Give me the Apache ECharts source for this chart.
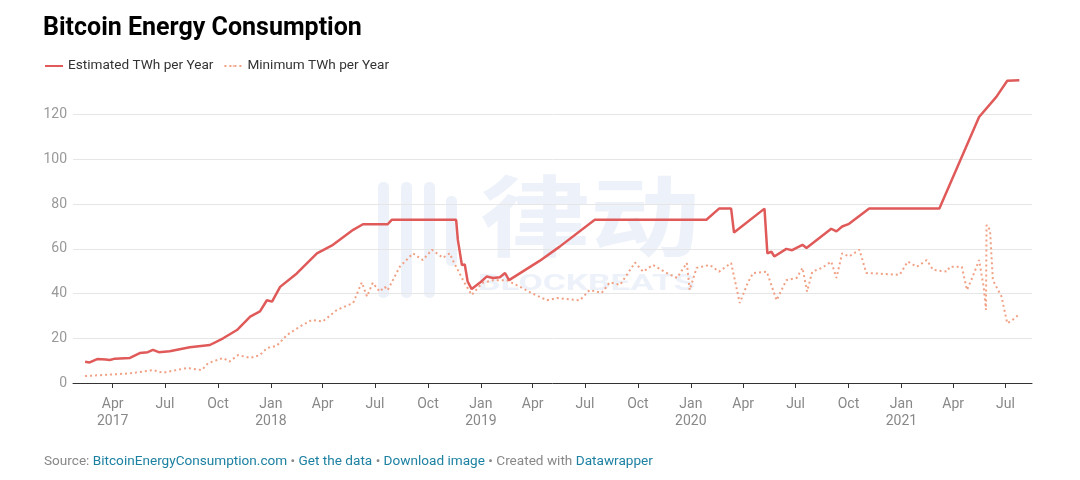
<!DOCTYPE html>
<html>
<head>
<meta charset="utf-8">
<script src="https://cdn.jsdelivr.net/npm/echarts@6/dist/echarts.min.js"></script>
<style>
  html, body { margin: 0; padding: 0; background: #fff; }
  #chart { width: 1080px; height: 480px; }
</style>
</head>
<body>
<div id="chart"></div>
<script>
// estimated TWh per year
const estDates = [
  "2017-02-12", "2017-02-20", "2017-03-05", "2017-03-20", "2017-03-27", "2017-04-05",
  "2017-05-01", "2017-05-18", "2017-06-01", "2017-06-10", "2017-06-20", "2017-07-09",
  "2017-08-13", "2017-09-17", "2017-10-10", "2017-11-03", "2017-11-26", "2017-12-13",
  "2017-12-25", "2018-01-03", "2018-01-17", "2018-02-15", "2018-03-22", "2018-04-19",
  "2018-05-24", "2018-06-10", "2018-07-23", "2018-07-30", "2018-11-19", "2018-11-22",
  "2018-11-29", "2018-12-04", "2018-12-09", "2018-12-16", "2018-12-30", "2019-01-11",
  "2019-01-22", "2019-02-03", "2019-02-12", "2019-02-19", "2019-04-13", "2019-05-18",
  "2019-07-18", "2020-01-28", "2020-02-19", "2020-03-11", "2020-03-16", "2020-05-08",
  "2020-05-13", "2020-05-20", "2020-05-25", "2020-06-15", "2020-06-25", "2020-07-13",
  "2020-07-20", "2020-09-01", "2020-09-10", "2020-09-20", "2020-10-02", "2020-11-06",
  "2021-03-08", "2021-05-16", "2021-06-15", "2021-07-04", "2021-07-25"
];
const estValues = [
  9.5, 9.2, 10.7, 10.5, 10.3, 10.9,
  11.2, 13.4, 13.8, 14.8, 13.8, 14.2,
  16, 17, 20, 23.7, 29.7, 32,
  37, 36.4, 43, 49, 58, 61.8,
  68.5, 71, 71, 73, 73, 64,
  52.8, 53, 45.4, 42, 44.8, 47.6,
  47, 47.3, 49.2, 46, 54.6, 61,
  73, 73, 78, 78, 67.3, 78,
  58, 58.7, 56.6, 60, 59.4, 61.8,
  60.4, 69, 67.8, 70, 71.2, 78,
  78, 119, 128, 135.2, 135.4
];

// minimum TWh per year
const minDates = [
  "2017-02-12", "2017-05-01", "2017-06-10", "2017-06-27", "2017-08-08", "2017-09-03",
  "2017-09-14", "2017-10-10", "2017-10-21", "2017-11-05", "2017-11-26", "2017-12-13",
  "2017-12-25", "2018-01-11", "2018-01-29", "2018-02-20", "2018-03-13", "2018-04-01",
  "2018-04-26", "2018-05-24", "2018-06-08", "2018-06-17", "2018-06-27", "2018-07-09",
  "2018-07-18", "2018-07-23", "2018-08-13", "2018-09-05", "2018-09-22", "2018-10-08",
  "2018-10-27", "2018-11-08", "2018-11-13", "2018-12-01", "2018-12-16", "2019-01-04",
  "2019-01-22", "2019-02-15", "2019-03-10", "2019-04-01", "2019-04-26", "2019-05-13",
  "2019-05-30", "2019-06-22", "2019-07-09", "2019-07-30", "2019-08-13", "2019-08-31",
  "2019-09-26", "2019-10-10", "2019-10-27", "2019-11-20", "2019-12-08", "2019-12-25",
  "2019-12-30", "2020-01-11", "2020-02-03", "2020-02-19", "2020-03-11", "2020-03-26",
  "2020-04-09", "2020-04-18", "2020-05-12", "2020-05-29", "2020-06-15", "2020-07-03",
  "2020-07-13", "2020-07-21", "2020-07-30", "2020-08-16", "2020-09-01", "2020-09-10",
  "2020-09-20", "2020-10-02", "2020-10-20", "2020-11-01", "2020-12-29", "2021-01-12",
  "2021-01-28", "2021-02-14", "2021-02-25", "2021-03-21", "2021-03-26", "2021-04-16",
  "2021-04-25", "2021-05-05", "2021-05-16", "2021-05-24", "2021-05-28", "2021-05-29",
  "2021-06-04", "2021-06-09", "2021-06-24", "2021-07-04", "2021-07-13", "2021-07-23"
];
const minValues = [
  3.1, 4.3, 5.8, 4.6, 6.7, 5.8,
  8.9, 11.2, 9.6, 12.5, 11.2, 12.5,
  15.6, 16.6, 21.5, 25.2, 28.2, 27.5,
  32.7, 35.8, 45, 38.7, 44.8, 40.9,
  43, 41.5, 52, 58, 55, 59.6,
  56, 58, 55, 46, 39.4, 44.8,
  46, 46, 43, 40, 37, 38,
  37.6, 37, 41.6, 40.3, 45, 43.9,
  53.9, 49.8, 52.8, 49.2, 47, 53.7,
  41.6, 51.5, 52.8, 49.8, 53.7, 35.8,
  44.8, 49.2, 49.8, 37, 46, 47,
  51.5, 40.9, 49.8, 51.5, 54.3, 47,
  58, 56.6, 59.6, 49.2, 48.4, 54.3,
  52, 55, 50.6, 49.8, 52, 52,
  41.6, 47.6, 55, 43, 32.7, 70.7,
  68.5, 46, 38.7, 26.7, 28.2, 30.4
];

// quarterly ticks on the x axis
const tickDates = [
  "2017-04-01", "2017-07-01", "2017-10-01", "2018-01-01", "2018-04-01", "2018-07-01",
  "2018-10-01", "2019-01-01", "2019-04-01", "2019-07-01", "2019-10-01", "2020-01-01",
  "2020-04-01", "2020-07-01", "2020-10-01", "2021-01-01", "2021-04-01", "2021-07-01"
];
const monthNames = ["Jan", "Feb", "Mar", "Apr", "May", "Jun", "Jul", "Aug", "Sep", "Oct", "Nov", "Dec"];

const ts = (s) => new Date(s + "T00:00:00Z").getTime();
const tickValues = tickDates.map(ts);

const chart = echarts.init(document.getElementById("chart"));
const font = "Roboto, 'Noto Sans', sans-serif";
const wm = "rgba(196, 208, 235, 0.3)";

chart.setOption({
  animation: false,
  textStyle: { fontFamily: font },
  title: {
    text: "Bitcoin Energy Consumption",
    left: 38,
    top: 11,
    textStyle: { fontSize: 25, fontWeight: "bold", color: "#000", fontFamily: font }
  },
  legend: {
    left: 39,
    top: 54,
    itemWidth: 18,
    itemHeight: 2,
    itemGap: 10,
    textStyle: { fontSize: 13.6, color: "#333" },
    data: ["Estimated TWh per Year", "Minimum TWh per Year"]
  },
  grid: { left: 73, right: 48, top: 70, bottom: 97 },
  xAxis: {
    // timestamps on a value axis so the quarterly ticks can be set exactly
    type: "value",
    min: ts("2017-01-22"),
    max: ts("2021-08-16"),
    axisLine: { lineStyle: { color: "#333", width: 1 } },
    axisTick: { show: true, length: 5, customValues: tickValues, lineStyle: { color: "#333" } },
    splitLine: { show: false },
    axisLabel: {
      customValues: tickValues,
      color: "#888",
      fontSize: 14,
      lineHeight: 17,
      margin: 13,
      formatter: (v) => {
        const d = new Date(v);
        const m = d.getUTCMonth();
        const label = monthNames[m];
        if (m === 0 || v === tickValues[0]) return label + "\n" + d.getUTCFullYear();
        return label;
      }
    }
  },
  yAxis: {
    type: "value",
    min: 0,
    max: 140,
    interval: 20,
    axisLine: { show: false },
    axisTick: { show: false },
    axisLabel: { color: "#999", fontSize: 14, margin: 6, showMaxLabel: false },
    splitLine: { showMaxLine: false, lineStyle: { color: "#e6e6e6" } }
  },
  graphic: [
    // faint watermark
    { type: "rect", z: 0, silent: true, shape: { x: 378, y: 182, width: 11, height: 116, r: 5 }, style: { fill: wm } },
    { type: "rect", z: 0, silent: true, shape: { x: 401, y: 182, width: 11, height: 116, r: 5 }, style: { fill: wm } },
    { type: "rect", z: 0, silent: true, shape: { x: 424, y: 182, width: 11, height: 116, r: 5 }, style: { fill: wm } },
    { type: "rect", z: 0, silent: true, shape: { x: 446, y: 196, width: 11, height: 70, r: 5 }, style: { fill: wm } },
    { type: "text", z: 0, silent: true, x: 480, y: 172, scaleX: 1.25, style: { text: "律动", fill: wm, fontSize: 88, fontWeight: "bold", fontFamily: "'Noto Sans CJK SC'" } },
    { type: "text", z: 0, silent: true, x: 478, y: 273, scaleX: 1.6, style: { text: "BLOCKBEATS", fill: wm, fontSize: 22, fontWeight: "bold", fontFamily: font } },
    // footer
    {
      type: "text",
      left: 44,
      top: 455,
      style: {
        text: "{g|Source: }{b|BitcoinEnergyConsumption.com}{g| • }{b|Get the data}{g| • }{b|Download image}{g| • Created with }{b|Datawrapper}",
        fontFamily: font,
        fontSize: 13.6,
        rich: {
          g: { fill: "#888", fontSize: 13.6, fontFamily: font },
          b: { fill: "#1d81a2", fontSize: 13.6, fontFamily: font }
        }
      }
    }
  ],
  series: [
    {
      name: "Estimated TWh per Year",
      type: "line",
      symbol: "none",
      z: 3,
      data: estDates.map((d, i) => [ts(d), estValues[i]]),
      lineStyle: { color: "#e05a5a", width: 2.5 },
      itemStyle: { color: "#e05a5a" }
    },
    {
      name: "Minimum TWh per Year",
      type: "line",
      symbol: "none",
      z: 2,
      data: minDates.map((d, i) => [ts(d), minValues[i]]),
      lineStyle: { color: "#f1a083", width: 2, type: [2, 3] },
      itemStyle: { color: "#f1a083" }
    }
  ]
});
</script>
</body>
</html>
